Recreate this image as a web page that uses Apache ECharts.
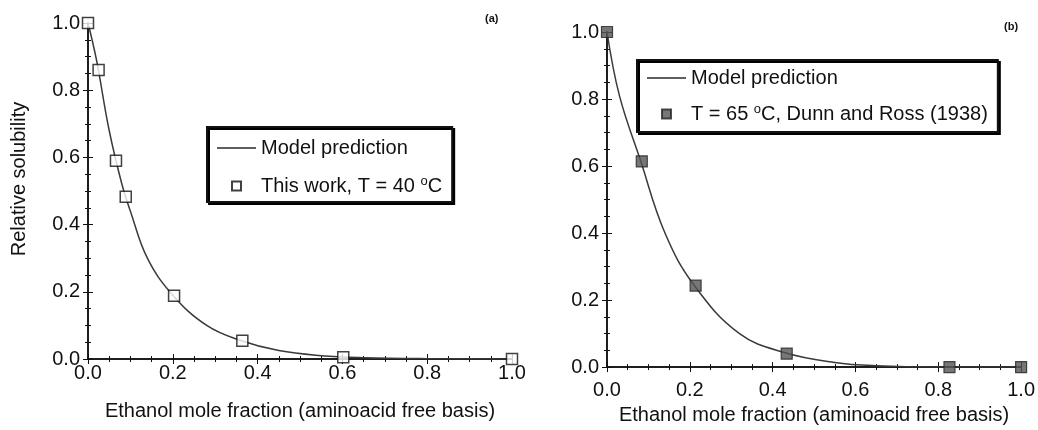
<!DOCTYPE html>
<html>
<head>
<meta charset="utf-8">
<script src="https://cdn.jsdelivr.net/npm/echarts@6/dist/echarts.min.js"></script>
<style>
  html, body { margin: 0; padding: 0; background: #fff; }
  #chart { width: 1038px; height: 430px; }
</style>
</head>
<body>
<div id="chart"></div>
<script>
// (a) this work, T = 40 C
var expAX = [0, 0.025, 0.066, 0.089, 0.203, 0.364, 0.602, 1.0];
var expAY = [1.0, 0.86, 0.59, 0.483, 0.188, 0.054, 0.005, 0.0];
var modelAX = [0, 0.02, 0.05, 0.08, 0.1, 0.14, 0.2, 0.28, 0.36, 0.45, 0.55, 0.65, 0.8, 1.0];
var modelAY = [1.0, 0.89, 0.68, 0.52, 0.44, 0.30, 0.19, 0.10, 0.055, 0.025, 0.01, 0.004, 0.001, 0.0];

// (b) Dunn and Ross (1938), T = 65 C
var expBX = [0, 0.084, 0.214, 0.434, 0.827, 1.0];
var expBY = [1.0, 0.614, 0.243, 0.04, 0.0, 0.0];
var modelBX = [0, 0.03, 0.08, 0.14, 0.21, 0.32, 0.43, 0.55, 0.65, 0.8, 1.0];
var modelBY = [1.0, 0.81, 0.62, 0.40, 0.245, 0.10, 0.043, 0.014, 0.004, 0.0, 0.0];

var nameModel = 'Model prediction';
var nameA = 'This work, T = 40 °C';
var nameB = 'T = 65 °C, Dunn and Ross (1938)';

function zip(xs, ys) {
  return xs.map(function (x, i) { return [x, ys[i]]; });
}

var FONT = 'Liberation Sans, Arial, sans-serif';
var FS = 20;
var INK = '#111';
var axisLine = { lineStyle: { color: INK, width: 1.5 } };
var tickFmt = function (v) { return v.toFixed(1); };
var ticks = { inside: true, length: 5, lineStyle: { color: INK } };
var minor = { show: true, splitNumber: 4, length: 3, lineStyle: { color: INK } };

function bottomAxis(g, gap, margin) {
  return {
    type: 'value', gridIndex: g, min: 0, max: 1, interval: 0.2,
    name: 'Ethanol mole fraction (aminoacid free basis)',
    nameLocation: 'middle', nameGap: gap,
    nameTextStyle: { fontFamily: FONT, fontSize: FS, color: INK },
    axisLine: axisLine, axisTick: ticks, minorTick: minor,
    axisLabel: { formatter: tickFmt, margin: margin, fontFamily: FONT, fontSize: FS, color: INK },
    splitLine: { show: false }
  };
}
function topAxis(g) {
  return {
    type: 'value', gridIndex: g, position: 'top', min: 0, max: 1, interval: 0.2,
    axisLine: axisLine, axisTick: ticks, minorTick: minor,
    axisLabel: { show: false }, splitLine: { show: false }
  };
}
function leftAxis(g) {
  return {
    type: 'value', gridIndex: g, min: 0, max: 1, interval: 0.2,
    axisLine: axisLine, axisTick: ticks, minorTick: minor,
    axisLabel: { formatter: tickFmt, margin: 8, fontFamily: FONT, fontSize: FS, color: INK },
    splitLine: { show: false }
  };
}
function rightAxis(g) {
  return {
    type: 'value', gridIndex: g, position: 'right', min: 0, max: 1, interval: 0.2,
    axisLine: axisLine, axisTick: ticks, minorTick: minor,
    axisLabel: { show: false }, splitLine: { show: false }
  };
}

var sqIcon = 'path://M0,0H10V10H0Z';
var lineIcon = 'path://M0,0H40V1.6H0Z';
var legendText = {
  fontFamily: FONT, fontSize: FS, color: INK, lineHeight: 22,
  rich: { sup: { fontFamily: FONT, fontSize: 13, verticalAlign: 'top', lineHeight: 22, color: INK } }
};
var legendFmt = function (n) { return n.replace('°C', '{sup|o}C'); };
function legendBox(left, top, name, gap, pad) {
  return {
    left: left, top: top, orient: 'vertical',
    itemWidth: 39, itemHeight: 9, itemGap: gap,
    padding: pad,
    backgroundColor: '#fff', borderColor: INK, borderWidth: 2, borderRadius: 0,
    shadowColor: '#000', shadowOffsetX: 2, shadowOffsetY: 2, shadowBlur: 0,
    selectedMode: false,
    formatter: legendFmt,
    textStyle: legendText,
    data: [
      { name: nameModel, icon: lineIcon, itemStyle: { color: '#2a2a2a' } },
      { name: name, icon: sqIcon }
    ]
  };
}

var lineStyle = { color: '#3a3a3a', width: 1.5 };

var option = {
  backgroundColor: '#fff',
  animation: false,
  title: [
    { text: '(a)', left: 485, top: 13, padding: 0, textStyle: { fontFamily: FONT, fontSize: 11, fontWeight: 'bold', color: INK } },
    { text: '(b)', left: 1004, top: 21, padding: 0, textStyle: { fontFamily: FONT, fontSize: 11, fontWeight: 'bold', color: INK } }
  ],
  graphic: [{
    type: 'text', x: 19, y: 179, rotation: Math.PI / 2,
    style: {
      text: 'Relative solubility', fontFamily: FONT, fontSize: FS, fill: INK,
      align: 'center', verticalAlign: 'middle'
    }
  }],
  grid: [
    { left: 88, top: 23, width: 424, height: 336 },
    { left: 607, top: 32, width: 417, height: 336 }
  ],
  xAxis: [bottomAxis(0, 42, 4), topAxis(0), bottomAxis(1, 30, 13), topAxis(1)],
  yAxis: [leftAxis(0), rightAxis(0), leftAxis(1), rightAxis(1)],
  legend: [
    legendBox(207, 127, nameA, 16, [10, 10, 5, 10]),
    legendBox(637, 60, nameB, 14, [7, 10, 7, 10])
  ],
  series: [
    {
      name: nameModel, type: 'line', xAxisIndex: 0, yAxisIndex: 0,
      data: zip(modelAX, modelAY), smooth: 0.4, symbol: 'none',
      lineStyle: lineStyle, itemStyle: { color: '#2a2a2a' }, z: 2
    },
    {
      name: nameA, type: 'scatter', xAxisIndex: 0, yAxisIndex: 0, clip: false,
      data: zip(expAX, expAY), symbol: 'rect', symbolSize: 11,
      itemStyle: { color: '#fff', borderColor: INK, borderWidth: 1.5 }, z: 3
    },
    {
      name: nameModel, type: 'line', xAxisIndex: 2, yAxisIndex: 2,
      data: zip(modelBX, modelBY), smooth: 0.4, symbol: 'none',
      lineStyle: lineStyle, itemStyle: { color: '#2a2a2a' }, z: 2
    },
    {
      name: nameB, type: 'scatter', xAxisIndex: 2, yAxisIndex: 2, clip: false,
      data: zip(expBX, expBY), symbol: 'rect', symbolSize: 11,
      itemStyle: { color: '#555', borderColor: '#222', borderWidth: 1.2 }, z: 3
    }
  ]
};

var chart = echarts.init(document.getElementById('chart'));
chart.setOption(option);
window.onresize = function () { chart.resize(); };
</script>
</body>
</html>
